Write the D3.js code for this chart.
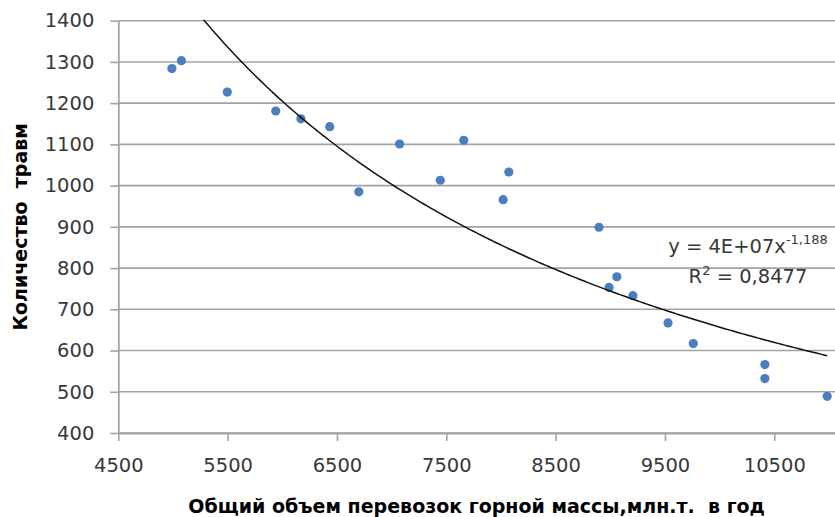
<!DOCTYPE html>
<html>
<head>
<meta charset="utf-8">
<script src="https://cdn.jsdelivr.net/npm/d3@7"></script>
<style>
  html, body { margin: 0; padding: 0; background: #fff; }
  svg { display: block; font-family: "DejaVu Sans", Verdana, sans-serif; }
</style>
</head>
<body>
<svg id="chart" width="835" height="517"></svg>
<script>
// Annual rock-mass haulage volume (mln t) and the number of injuries
const haulageVolume = [4990, 5077, 5497, 5940, 6170, 6434, 6700, 7073, 7445, 7660, 8020,
                       8072, 8897, 8989, 9060, 9207, 9528, 9759, 10414, 10414, 10984];
const injuryCount   = [1284, 1303, 1227, 1181, 1162, 1143, 985, 1101, 1013, 1110, 966,
                       1033, 899, 753, 779, 733, 667, 617, 566, 532, 489];

// Axis ticks
const xTicks = [4500, 5500, 6500, 7500, 8500, 9500, 10500];
const yTicks = [400, 500, 600, 700, 800, 900, 1000, 1100, 1200, 1300, 1400];

// Power trend line y = a * x^b
const trendCoef = 3.71e7;
const trendExp = -1.188;
const trendLabel = "y = 4E+07x";
const trendExpLabel = "-1,188";
const r2Value = "0,8477";

const xTitle = "Общий объем перевозок горной массы,млн.т.  в год";
const yTitle = "Количество  травм";

const W = 835, H = 517;
const plotLeft = 118.3, plotTop = 20.7, plotBottom = 433;
const pxPerUnit = 0.10933;

const svg = d3.select("#chart");
svg.append("rect").attr("width", W).attr("height", H).attr("fill", "#fff");

const x = d3.scaleLinear()
  .domain([4500, 11500])
  .range([plotLeft, plotLeft + 7000 * pxPerUnit]);
const y = d3.scaleLinear()
  .domain([400, 1400])
  .range([plotBottom, plotTop]);

const gridColor = "#a3a3a3";
const textColor = "#383838";

// horizontal gridlines
svg.append("g")
  .selectAll("line")
  .data(yTicks)
  .join("line")
  .attr("x1", plotLeft).attr("x2", W)
  .attr("y1", d => y(d)).attr("y2", d => y(d))
  .attr("stroke", gridColor)
  .attr("stroke-width", 1.6);

// y axis
const yAxis = svg.append("g")
  .attr("transform", `translate(${plotLeft},0)`)
  .call(d3.axisLeft(y).tickValues(yTicks).tickSize(8).tickSizeOuter(0).tickPadding(16).tickFormat(d3.format("d")));
yAxis.select(".domain").attr("stroke", gridColor).attr("stroke-width", 1.8);
yAxis.selectAll(".tick line").attr("stroke", gridColor).attr("stroke-width", 1.6);
yAxis.selectAll(".tick text")
  .attr("font-size", 19.5)
  .attr("fill", textColor)
  .attr("font-family", "DejaVu Sans");

// x axis (its line runs to the right edge of the drawing)
const xAxis = svg.append("g")
  .attr("transform", `translate(0,${plotBottom})`)
  .call(d3.axisBottom(x).tickValues(xTicks).tickSize(8).tickSizeOuter(0).tickPadding(17).tickFormat(d3.format("d")));
xAxis.select(".domain").attr("stroke", gridColor).attr("stroke-width", 1.8);
xAxis.selectAll(".tick line").attr("stroke", gridColor).attr("stroke-width", 1.6);
xAxis.selectAll(".tick text")
  .attr("font-size", 19.5)
  .attr("fill", textColor)
  .attr("font-family", "DejaVu Sans");

// clip for the plot area
svg.append("clipPath").attr("id", "plotClip")
  .append("rect").attr("x", plotLeft).attr("y", plotTop - 1)
  .attr("width", W - plotLeft).attr("height", plotBottom - plotTop + 1);

// data points
svg.append("g")
  .selectAll("circle")
  .data(haulageVolume.map((v, i) => [v, injuryCount[i]]))
  .join("circle")
  .attr("cx", d => x(d[0]))
  .attr("cy", d => y(d[1]))
  .attr("r", 4.6)
  .attr("fill", "#4a7ebf");

// power trend line over the data range
const xMin = d3.min(haulageVolume), xMax = d3.max(haulageVolume);
const trendPts = d3.range(0, 201).map(i => {
  const v = xMin + (xMax - xMin) * i / 200;
  return [v, trendCoef * Math.pow(v, trendExp)];
});
svg.append("path")
  .attr("clip-path", "url(#plotClip)")
  .attr("d", d3.line().x(d => x(d[0])).y(d => y(d[1]))(trendPts))
  .attr("fill", "none")
  .attr("stroke", "#111")
  .attr("stroke-width", 1.5);

// trend equation
const eq = svg.append("g").attr("fill", textColor).attr("font-size", 19.5);
const eq1 = eq.append("text").attr("x", 748).attr("y", 253).attr("text-anchor", "middle");
eq1.append("tspan").text(trendLabel);
eq1.append("tspan").attr("font-size", 13).attr("dy", -9).text(trendExpLabel);
const eq2 = eq.append("text").attr("x", 748).attr("y", 283).attr("text-anchor", "middle");
eq2.append("tspan").text("R");
eq2.append("tspan").attr("font-size", 13).attr("dy", -8).text("2");
eq2.append("tspan").attr("dy", 8).text(" = " + r2Value);

// axis titles
svg.append("text")
  .attr("x", (plotLeft + W) / 2).attr("y", 512.5)
  .attr("text-anchor", "middle")
  .attr("font-size", 19)
  .attr("font-weight", "bold")
  .attr("fill", "#000")
  .style("white-space", "pre")
  .text(xTitle);

svg.append("text")
  .attr("transform", `translate(26.5,${(plotTop + plotBottom) / 2}) rotate(-90)`)
  .attr("text-anchor", "middle")
  .attr("font-size", 19)
  .attr("font-weight", "bold")
  .attr("fill", "#000")
  .style("white-space", "pre")
  .text(yTitle);
</script>
</body>
</html>
